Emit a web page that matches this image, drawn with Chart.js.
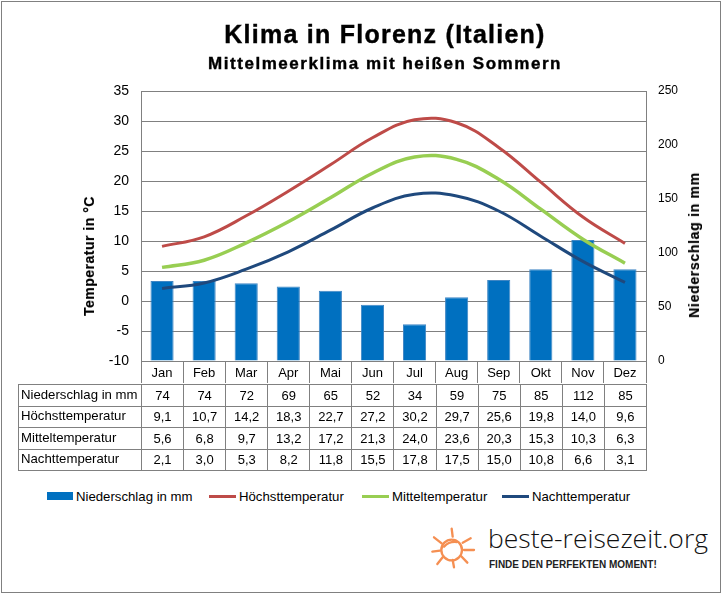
<!DOCTYPE html>
<html>
<head>
<meta charset="utf-8">
<script src="https://cdn.jsdelivr.net/npm/chart.js@4/dist/chart.umd.min.js"></script>
<style>
    html, body { margin: 0; padding: 0; background: #fff; }
    body { width: 722px; height: 594px; position: relative; overflow: hidden; font-family: "Liberation Sans", Arial, sans-serif; color: #000; }
    #frame { position: absolute; left: 1px; top: 1px; width: 718px; height: 590px; border: 1px solid #808080; }
    #chart { position: absolute; left: 0; top: 0; }
    .title { position: absolute; left: 0; width: 770px; text-align: center; font-weight: bold; white-space: nowrap; -webkit-text-stroke: 0.4px #000; }
    #title { top: 20px; font-size: 25px; letter-spacing: 1.25px; }
    #subtitle { top: 54px; font-size: 17px; letter-spacing: 1.55px; }
    .axisTitle { position: absolute; font-size: 14px; font-weight: bold; white-space: nowrap; transform: translate(-50%, -50%) rotate(-90deg); -webkit-text-stroke: 0.2px #000; }
    #dataTable { position: absolute; left: 18px; top: 384px; border-collapse: collapse; table-layout: fixed; font-size: 13px; }
    #dataTable td { border: 1px solid #808080; height: 21.5px; padding: 0; text-align: center; box-sizing: border-box; width: 42.08px; }
    #dataTable td:first-child { width: 123px; text-align: left; padding-left: 2px; font-size: 13.2px; padding-bottom: 2px; }
    #legend span { position: absolute; top: 489px; font-size: 13.2px; white-space: nowrap; }
    #legend i { position: absolute; display: block; }
    #logoText { position: absolute; left: 488px; top: 520px; font: 300 26.5px "Open Sans", sans-serif; color: #111; white-space: nowrap; }
    #logoTag { position: absolute; left: 489px; top: 559px; font: bold 10px "Liberation Sans", sans-serif; color: #222; white-space: nowrap; }
    #sun { position: absolute; left: 400px; top: 480px; }
</style>
</head>
<body>
<div id="frame"></div>
<canvas id="chart" width="722" height="385"></canvas>
<div class="title" id="title">Klima in Florenz (Italien)</div>
<div class="title" id="subtitle">Mittelmeerklima mit heißen Sommern</div>
<div class="axisTitle" style="left:89px;top:255.5px;letter-spacing:.5px">Temperatur in °C</div>
<div class="axisTitle" style="left:694px;top:245px;letter-spacing:.7px">Niederschlag in mm</div>
<table id="dataTable"></table>
<div id="legend"></div>
<svg id="sun" width="322" height="114" viewBox="0 0 966 342" fill="none" stroke="#F58F52" stroke-width="7" stroke-linecap="round">
    <circle cx="155" cy="210" r="31"/>
    <path d="M132 200 Q146 184 170 186"/>
    <path d="M155 146 L158 170 M188 188 L212 175 M192 210 L222 210 M183 228 L202 248 M158 240 L162 262 M128 232 L112 252 M97 215 L120 212 M102 172 L125 190"/>
</svg>
<div id="logoText">beste-reisezeit.org</div>
<div id="logoTag">FINDE DEN PERFEKTEN MOMENT!</div>

<script>
const months = ['Jan', 'Feb', 'Mar', 'Apr', 'Mai', 'Jun', 'Jul', 'Aug', 'Sep', 'Okt', 'Nov', 'Dez'];
const niederschlag = [74, 74, 72, 69, 65, 52, 34, 59, 75, 85, 112, 85];
const hoechst = [9.1, 10.7, 14.2, 18.3, 22.7, 27.2, 30.2, 29.7, 25.6, 19.8, 14.0, 9.6];
const mittel = [5.6, 6.8, 9.7, 13.2, 17.2, 21.3, 24.0, 23.6, 20.3, 15.3, 10.3, 6.3];
const nacht = [2.1, 3.0, 5.3, 8.2, 11.8, 15.5, 17.8, 17.5, 15.0, 10.8, 6.6, 3.1];

const gray = '#808080';
const lineSet = (label, data, color, width) => ({
    type: 'line', label, data, borderColor: color, borderWidth: width,
    pointRadius: 0, tension: 0.4, yAxisID: 'y', order: 1
});

const chart = new Chart(document.getElementById('chart'), {
    data: {
        labels: months,
        datasets: [
            { type: 'bar', label: 'Niederschlag in mm', data: niederschlag, yAxisID: 'y1', order: 2,
              backgroundColor: '#0070C0', borderColor: '#3F86C4', borderWidth: 1,
              barPercentage: 0.55, categoryPercentage: 1 },
            lineSet('Höchsttemperatur', hoechst, '#BE4B48', 3),
            lineSet('Mitteltemperatur', mittel, '#98CE52', 3.5),
            lineSet('Nachttemperatur', nacht, '#1F497D', 3)
        ]
    },
    options: {
        responsive: false,
        animation: false,
        layout: { padding: { top: 91 } },
        plugins: { legend: { display: false }, title: { display: false }, tooltip: { enabled: false } },
        scales: {
            x: {
                afterFit: s => { s.height = 24; },
                grid: { color: gray, drawOnChartArea: false, tickLength: 22 },
                border: { color: gray },
                ticks: { color: '#000', font: { family: 'Liberation Sans', size: 13 }, padding: -17, maxRotation: 0 }
            },
            y: {
                position: 'left', min: -10, max: 35,
                afterFit: s => { s.width = 141; },
                grid: { color: gray, tickLength: 0 },
                border: { color: gray },
                ticks: { stepSize: 5, color: '#000', font: { family: 'Liberation Sans', size: 14 }, padding: 12 }
            },
            y1: {
                position: 'right', min: 0, max: 250,
                afterFit: s => { s.width = 76; },
                grid: { drawOnChartArea: false, tickLength: 0 },
                border: { color: gray },
                ticks: { stepSize: 50, color: '#000', font: { family: 'Liberation Sans', size: 12 }, padding: 12 }
            }
        }
    }
});

// Tabelle unter dem Diagramm
const fmt = v => v.toFixed(1).replace('.', ',');
const rows = [
    ['Niederschlag in mm', niederschlag.map(String)],
    ['Höchsttemperatur', hoechst.map(fmt)],
    ['Mitteltemperatur', mittel.map(fmt)],
    ['Nachttemperatur', nacht.map(fmt)]
];
document.getElementById('dataTable').innerHTML = rows.map(([name, vals]) =>
    '<tr><td>' + name + '</td>' + vals.map(v => '<td>' + v + '</td>').join('') + '</tr>'
).join('');

// Legende
const legendEl = document.getElementById('legend');
const legendX = [47, 209, 362, 502];
chart.data.datasets.forEach((ds, i) => {
    const isBar = ds.type === 'bar';
    const key = document.createElement('i');
    key.style.cssText = 'left:' + legendX[i] + 'px;top:' + (isBar ? 492 : 495) + 'px;width:' + (isBar ? 26 : 27) + 'px;height:' + (isBar ? 8 : 2.5) + 'px;background:' + (isBar ? ds.backgroundColor : ds.borderColor);
    const text = document.createElement('span');
    text.textContent = ds.label;
    text.style.left = (legendX[i] + (isBar ? 29 : 30)) + 'px';
    legendEl.append(key, text);
});
</script>
</body>
</html>
